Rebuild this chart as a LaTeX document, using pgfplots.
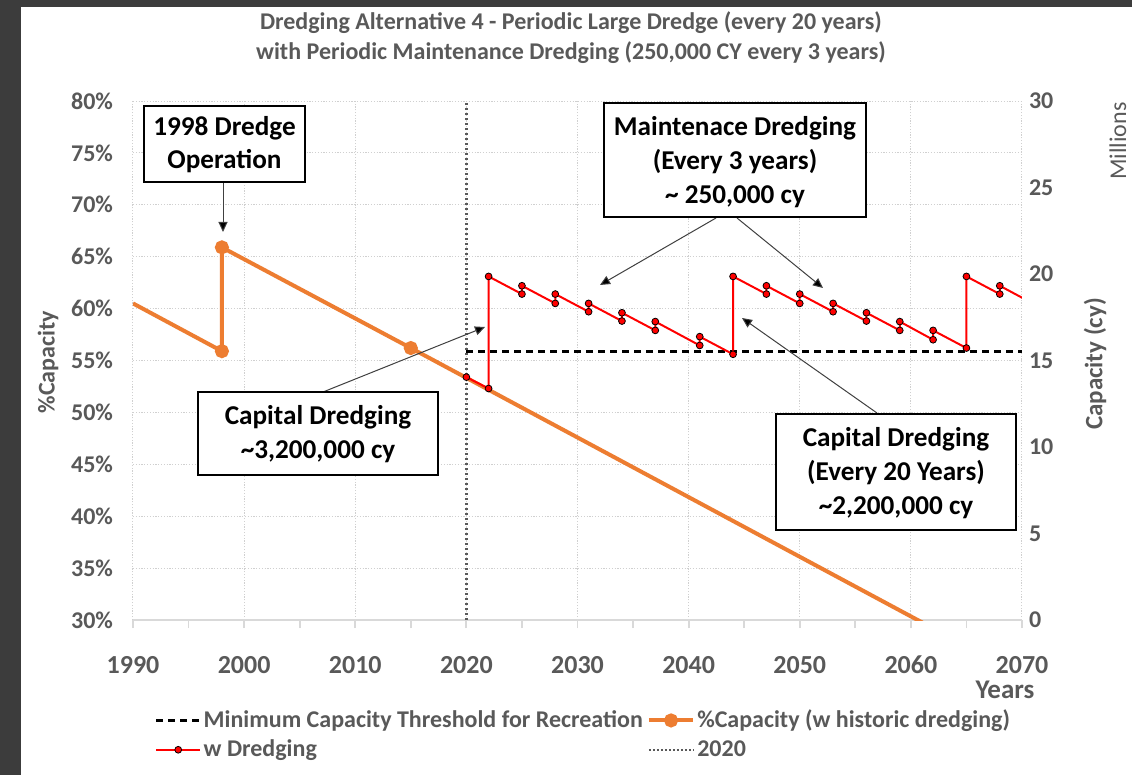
\documentclass[border=0pt]{standalone}
\usepackage{fontspec}
\setmainfont{Carlito}
\usepackage{pgfplots}
\pgfplotsset{compat=1.18}
\usetikzlibrary{arrows.meta}
\definecolor{txtgray}{HTML}{595959}
\definecolor{gridgray}{HTML}{D0D0D0}
\definecolor{axgray}{HTML}{D9D9D9}
\definecolor{orng}{HTML}{ED7D31}
\definecolor{dredred}{HTML}{FF0000}
\definecolor{frame}{HTML}{3C3C3C}
\definecolor{arrgray}{HTML}{404040}

\pgfplotstableread{
x y
1990 60.5
1998 55.9
1998 65.9
2015 56.2
2062 29.2
}\orangedata

\pgfplotstableread{
x y
2020 53.4
2022 52.3
2022 63.1
2025 61.4
2025 62.2
2028 60.5
2028 61.4
2031 59.7
2031 60.5
2034 58.8
2034 59.6
2037 57.9
2037 58.75
2041 56.45
2041 57.3
2044 55.6
2044 63.1
2047 61.4
2047 62.2
2050 60.5
2050 61.4
2053 59.7
2053 60.5
2056 58.8
2056 59.6
2059 57.9
2059 58.75
2062 57.0
2062 57.9
2065 56.2
2065 63.1
2068 61.4
2068 62.2
2071 60.48
}\reddata

\begin{document}
\begin{tikzpicture}
\useasboundingbox (0,0) rectangle (566pt,-387.5pt);
\fill[white] (0,0) rectangle (566pt,-387.5pt);
\begin{scope}[x=0.5pt,y=-0.5pt]
\fill[frame] (0,0) rectangle (1132,7);
\fill[frame] (0,0) rectangle (21,775);
\end{scope}

\begin{axis}[
  at={(66.5pt,-310pt)}, anchor=south west,
  scale only axis, width=444.5pt, height=259.5pt,
  xmin=1990, xmax=2070, ymin=30, ymax=80,
  xtick={1990,2000,...,2070},
  minor xtick={1995,2005,...,2065},
  ytick={30,35,...,80},
  axis x line*=bottom, axis y line*=left,
  y axis line style={draw=none},
  x axis line style={axgray, line width=0.9pt},
  xtick style={axgray, line width=0.9pt},
  ytick style={draw=none},
  tick align=outside,
  major tick length=4pt, minor tick length=4pt,
  grid=major,
  major grid style={gridgray, line width=0.5pt, dash pattern=on 0.6pt off 0.8pt},
  /pgf/number format/assume math mode=true,
  /pgf/number format/1000 sep={},
  yticklabel={\pgfmathprintnumber{\tick}\%},
  yticklabel style={font=\bfseries\fontsize{12}{14}\selectfont, text=txtgray, xshift=-2.5pt},
  xticklabel style={font=\bfseries\fontsize{13}{15}\selectfont, text=txtgray, yshift=-10.5pt},
  clip=true,
  legend columns=2,
  legend cell align=left,
  legend style={at={(0.024,-0.165)}, anchor=north west, draw=none, fill=none,
    font=\bfseries\fontsize{12}{14}\selectfont, text=txtgray,
    row sep=0.5pt, inner sep=0pt,
    nodes={inner xsep=1pt},
    /tikz/every even column/.append style={column sep=1pt}},
  legend image code/.code={\draw[mark repeat=2,mark phase=2] plot coordinates {(0cm,0cm) (0.39cm,0cm) (0.78cm,0cm)};},
]
\addplot[black, line width=1.3pt, dash pattern=on 3.5pt off 2.5pt, forget plot] coordinates {(2020,55.85) (2070,55.85)};
\addplot[orng, line width=2pt, mark=*, mark size=2.5pt, mark options={fill=orng, draw=orng}, mark indices={2,3,4}, forget plot] table {\orangedata};
\addplot[dredred, line width=1pt, mark=*, mark size=1.7pt, mark options={fill=dredred, draw=black, line width=0.4pt}, forget plot] table {\reddata};
\addplot[txtgray, line width=1.5pt, dash pattern=on 1.2pt off 1.3pt, forget plot] coordinates {(2020,30) (2020,80)};
\addlegendimage{black, line width=1.3pt, dash pattern=on 3.5pt off 2.5pt}
\addlegendimage{orng, line width=2pt, mark=*, mark size=2.5pt, mark options={fill=orng, draw=orng}}
\addlegendimage{dredred, line width=1pt, mark=*, mark size=1.7pt, mark options={fill=dredred, draw=black, line width=0.4pt}}
\addlegendimage{txtgray, line width=1.2pt, dash pattern=on 1pt off 1pt}
\legend{Minimum Capacity Threshold for Recreation,\%Capacity (w historic dredging),w Dredging,2020}
\end{axis}

\begin{axis}[
  at={(66.5pt,-310pt)}, anchor=south west,
  scale only axis, width=444.5pt, height=259.5pt,
  xmin=1990, xmax=2070, ymin=0, ymax=30,
  axis x line=none, axis y line*=right,
  y axis line style={draw=none},
  ytick={0,5,...,30}, ytick style={draw=none},
  /pgf/number format/assume math mode=true,
  yticklabel style={font=\bfseries\fontsize{12}{14}\selectfont, text=txtgray},
]
\addplot[draw=none] coordinates {(2000,10)};
\end{axis}

\begin{scope}[x=0.5pt,y=-0.5pt]
% titles
\node[text=txtgray, font=\bfseries\fontsize{12}{14}\selectfont] at (571,23) {Dredging Alternative 4 - Periodic Large Dredge (every 20 years)};
\node[text=txtgray, font=\bfseries\fontsize{12}{14}\selectfont] at (571,53) {with Periodic Maintenance Dredging (250,000 CY every 3 years)};
% axis labels
\node[rotate=90, text=txtgray, font=\bfseries\fontsize{12}{14}\selectfont] at (48,362) {\%Capacity};
\node[rotate=90, text=txtgray, font=\bfseries\fontsize{12.5}{14}\selectfont] at (1095,364) {Capacity (cy)};
\node[rotate=90, text=txtgray, font=\fontsize{12}{14}\selectfont] at (1118,141) {Millions};
\node[text=txtgray, font=\bfseries\fontsize{13.5}{15}\selectfont] at (1005,690) {Years};
% annotation arrows
\draw[arrgray, line width=0.5pt, -{Triangle[length=5pt,width=4.5pt,fill=black]}] (223,182) -- (223,232);
\draw[arrgray, line width=0.5pt, -{Triangle[length=5pt,width=4.5pt,fill=black]}] (716,218) -- (600,285);
\draw[arrgray, line width=0.5pt, -{Triangle[length=5pt,width=4.5pt,fill=black]}] (737,218) -- (823,288);
\draw[arrgray, line width=0.5pt, -{Triangle[length=5pt,width=4.5pt,fill=black]}] (323,392) -- (485,327);
\draw[arrgray, line width=0.5pt, -{Triangle[length=5pt,width=4.5pt,fill=black]}] (877,413) -- (742,318);
% boxes
\draw[black, fill=white, line width=0.8pt] (144,106) rectangle (305,182);
\node[align=center, font=\bfseries\fontsize{13.6}{16.5}\selectfont] at (224.5,145) {1998 Dredge\\Operation};
\draw[black, fill=white, line width=0.8pt] (604,103) rectangle (866,217);
\node[align=center, font=\bfseries\fontsize{13.6}{17}\selectfont] at (735,162) {Maintenace Dredging\\(Every 3 years)\\\textasciitilde{} 250,000 cy};
\draw[black, fill=white, line width=0.8pt] (198,392) rectangle (438,475);
\node[align=center, font=\bfseries\fontsize{13.6}{17}\selectfont] at (318,434) {Capital Dredging\\\textasciitilde3,200,000 cy};
\draw[black, fill=white, line width=0.8pt] (776,414) rectangle (1016,530);
\node[align=center, font=\bfseries\fontsize{13.6}{17}\selectfont] at (896,473) {Capital Dredging\\(Every 20 Years)\\\textasciitilde2,200,000 cy};
\end{scope}
\end{tikzpicture}
\end{document}
